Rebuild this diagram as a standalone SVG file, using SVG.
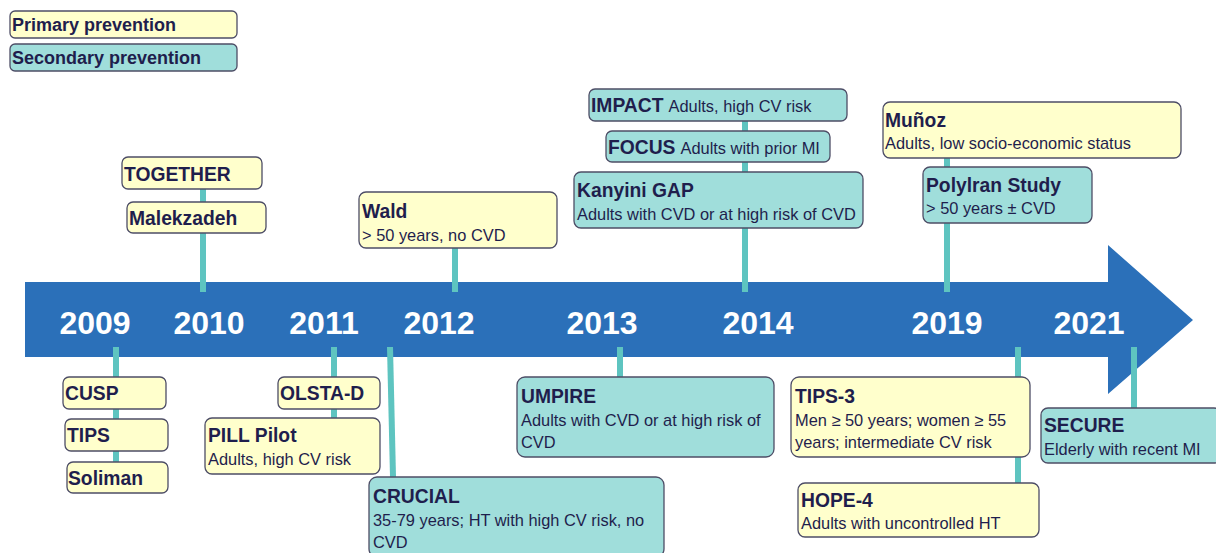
<svg xmlns="http://www.w3.org/2000/svg" width="1216" height="553" viewBox="0 0 1216 553">
<style>
text{font-family:"Liberation Sans",Arial,sans-serif;fill:#1f1e4d}
.t{font-weight:bold;font-size:19.3px}
.s{font-size:16.4px}
.lg{font-weight:bold;font-size:18px}
.yr{font-weight:bold;font-size:32px;fill:#ffffff;text-anchor:middle}
.p{fill:#ffffcc;stroke:#4d4d66;stroke-width:1.3}
.c{fill:#a0dedb;stroke:#4d4d66;stroke-width:1.3}
.stem{stroke:#5ec4c0;stroke-width:6;fill:none}
</style>
<rect width="1216" height="553" fill="#ffffff"/>
<g id="legend-primary"><rect class="p" x="10" y="11" width="227" height="27" rx="5"/><text class="lg" x="12" y="31">Primary prevention</text></g>
<g id="legend-secondary"><rect class="c" x="10" y="44" width="227" height="27" rx="5"/><text class="lg" x="12" y="64">Secondary prevention</text></g>
<path id="timeline-arrow" d="M25 282 H1108 V245 L1193 320 L1108 394 V357 H25 Z" fill="#2b70b9"/>
<g id="years">
<text class="yr" x="95" y="334">2009</text>
<text class="yr" x="209" y="334">2010</text>
<text class="yr" x="324" y="334">2011</text>
<text class="yr" x="439" y="334">2012</text>
<text class="yr" x="602" y="334">2013</text>
<text class="yr" x="758" y="334">2014</text>
<text class="yr" x="947" y="334">2019</text>
<text class="yr" x="1089" y="334">2021</text>
</g>
<g id="connectors">
<line class="stem" x1="203" y1="189" x2="203" y2="292"/>
<line class="stem" x1="455" y1="248" x2="455" y2="292"/>
<line class="stem" x1="745" y1="121" x2="745" y2="292"/>
<line class="stem" x1="947" y1="158" x2="947" y2="292"/>
<line class="stem" x1="116" y1="347" x2="116" y2="462"/>
<line class="stem" x1="334" y1="347" x2="334" y2="418"/>
<line class="stem" x1="390" y1="347" x2="393" y2="477"/>
<line class="stem" x1="620" y1="347" x2="620" y2="377"/>
<line class="stem" x1="1018" y1="347" x2="1018" y2="483"/>
<line class="stem" x1="1134" y1="347" x2="1134" y2="408"/>
</g>
<g id="together"><rect class="p" x="122" y="157" width="140" height="32" rx="6"/><text class="t" x="124" y="181">TOGETHER</text></g>
<g id="malekzadeh"><rect class="p" x="127" y="202" width="139" height="31" rx="6"/><text class="t" x="129" y="225">Malekzadeh</text></g>
<g id="wald"><rect class="p" x="359" y="192" width="198" height="56" rx="7"/><text class="t" x="362" y="218">Wald</text><text class="s" x="362" y="241">&gt; 50 years, no CVD</text></g>
<g id="impact"><rect class="c" x="589" y="89" width="258" height="32" rx="6"/><text x="591" y="112"><tspan class="t">IMPACT</tspan><tspan class="s" dx="5">Adults, high CV risk</tspan></text></g>
<g id="focus"><rect class="c" x="606" y="131" width="224" height="31" rx="6"/><text x="608" y="154"><tspan class="t">FOCUS</tspan><tspan class="s" dx="5">Adults with prior MI</tspan></text></g>
<g id="kanyini"><rect class="c" x="574" y="172" width="289" height="56" rx="7"/><text class="t" x="577" y="197">Kanyini GAP</text><text class="s" x="577" y="220">Adults with CVD or at high risk of CVD</text></g>
<g id="munoz"><rect class="p" x="883" y="102" width="298" height="56" rx="7"/><text class="t" x="885" y="127">Muñoz</text><text class="s" x="885" y="149">Adults, low socio-economic status</text></g>
<g id="polyiran"><rect class="c" x="923" y="167" width="169" height="56" rx="7"/><text class="t" x="926" y="192">Polylran Study</text><text class="s" x="926" y="214">&gt; 50 years ± CVD</text></g>
<g id="cusp"><rect class="p" x="63" y="377" width="103" height="32" rx="6"/><text class="t" x="65" y="400">CUSP</text></g>
<g id="tips"><rect class="p" x="65" y="419" width="103" height="32" rx="6"/><text class="t" x="67" y="442">TIPS</text></g>
<g id="soliman"><rect class="p" x="67" y="462" width="101" height="31" rx="6"/><text class="t" x="68" y="485">Soliman</text></g>
<g id="olsta-d"><rect class="p" x="278" y="377" width="102" height="32" rx="6"/><text class="t" x="280" y="400">OLSTA-D</text></g>
<g id="pill-pilot"><rect class="p" x="205" y="418" width="175" height="56" rx="7"/><text class="t" x="208" y="442">PILL Pilot</text><text class="s" x="208" y="465">Adults, high CV risk</text></g>
<g id="crucial"><rect class="c" x="369" y="477" width="295" height="80" rx="8"/><text class="t" x="373" y="503">CRUCIAL</text><text class="s" x="373" y="526">35-79 years; HT with high CV risk, no</text><text class="s" x="373" y="548">CVD</text></g>
<g id="umpire"><rect class="c" x="517" y="377" width="257" height="80" rx="8"/><text class="t" x="521" y="403">UMPIRE</text><text class="s" x="521" y="426">Adults with CVD or at high risk of</text><text class="s" x="521" y="448">CVD</text></g>
<g id="tips-3"><rect class="p" x="791" y="377" width="239" height="80" rx="8"/><text class="t" x="795" y="403">TIPS-3</text><text class="s" x="795" y="426">Men ≥ 50 years; women ≥ 55</text><text class="s" x="795" y="448">years; intermediate CV risk</text></g>
<g id="hope-4"><rect class="p" x="798" y="483" width="241" height="54" rx="7"/><text class="t" x="801" y="507">HOPE-4</text><text class="s" x="801" y="529">Adults with uncontrolled HT</text></g>
<g id="secure"><rect class="c" x="1041" y="408" width="180" height="55" rx="7"/><text class="t" x="1044" y="432">SECURE</text><text class="s" x="1044" y="455">Elderly with recent MI</text></g>
</svg>
